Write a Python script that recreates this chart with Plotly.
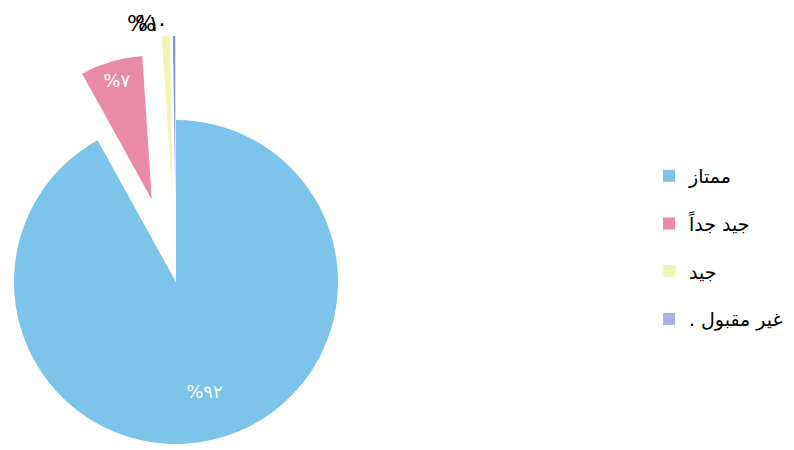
import math
import plotly.graph_objects as go

# ---- data ----
LABELS = ["ممتاز", "جيد جداً", "جيد", "غير مقبول .\u200f"]
VALUES = [92, 7, 0.8, 0.25]
PCT_TEXT = ["%٩٢", "%٧", "%١", "%٠"]

# ---- style ----
COLORS = ["#7CC4EA", "#E98BA7", "#EEF5B5", "#A3B3E6"]
SLICE_COLORS = ["#7CC4EA", "#E98BA7", "#EEF5B5", "#8C95DA"]
PULL_PX = [0, 86, 84, 84]          # explode distance of each slice (px)
TEXTPOS = ["inside", "inside", "outside", "outside"]
TEXT_HOLE = [0.4, 0.72, 0, 0]       # pushes inside labels outward in the slice
PAGE_PAD = 8                        # browser body margin
W, H = 794 - PAGE_PAD, 450 - PAGE_PAD
CX, CY, R = 176 - PAGE_PAD, 282 - PAGE_PAD, 162   # pie centre / radius (px)
FONT = "DejaVu Sans"

fig = go.Figure()
TRANSPARENT = "rgba(0,0,0,0)"
N = len(VALUES)


def domain_for(cx, cy, r):
    r = min(r, cx, W - cx, cy, H - cy)
    return dict(x=[(cx - r) / W, (cx + r) / W],
                y=[(H - (cy + r)) / H, (H - (cy - r)) / H])


# legend carriers (one per category, zero-size pies hidden behind the chart)
for i, lab in enumerate(LABELS):
    fig.add_trace(go.Pie(
        values=[1], labels=[lab], marker=dict(colors=[COLORS[i]], line=dict(width=0)),
        domain=domain_for(CX, CY, 0.2), textinfo="none", hoverinfo="skip",
        legendgroup=f"g{i}", showlegend=True, sort=False,
    ))

total = sum(VALUES)
cum = 0.0
for i, v in enumerate(VALUES):
    start = cum / total * 360
    cum += v
    end = cum / total * 360
    mid = math.radians((start + end) / 2)
    cx = CX + PULL_PX[i] * math.sin(mid)
    cy = CY - PULL_PX[i] * math.cos(mid)
    dom = domain_for(cx, cy, R)
    common = dict(values=VALUES, labels=LABELS, sort=False,
                  direction="clockwise", rotation=0, domain=dom,
                  hoverinfo="skip", showlegend=False)
    # the (exploded) slice itself
    fig.add_trace(go.Pie(
        marker=dict(colors=[SLICE_COLORS[j] if j == i else TRANSPARENT for j in range(N)],
                    line=dict(width=0)),
        textinfo="none", **common))
    # its percentage label
    fig.add_trace(go.Pie(
        marker=dict(colors=[TRANSPARENT] * N, line=dict(width=0)),
        hole=TEXT_HOLE[i],
        text=[PCT_TEXT[j] if j == i else "" for j in range(N)],
        textinfo="text",
        textposition=[TEXTPOS[j] if j == i else "none" for j in range(N)],
        insidetextorientation="horizontal",
        insidetextfont=dict(family=FONT, size=18, color="white"),
        outsidetextfont=dict(family=FONT, size=22, color="black"),
        **common))

fig.update_layout(
    width=W, height=H,
    margin=dict(l=0, r=0, t=0, b=0, autoexpand=False),
    paper_bgcolor="white", plot_bgcolor="white",
    legend=dict(x=0.8155, y=0.663, xanchor="left", yanchor="top",
                font=dict(family=FONT, size=19, color="black"),
                tracegroupgap=20, bgcolor="rgba(0,0,0,0)"),
)

fig.write_html("out.html")
